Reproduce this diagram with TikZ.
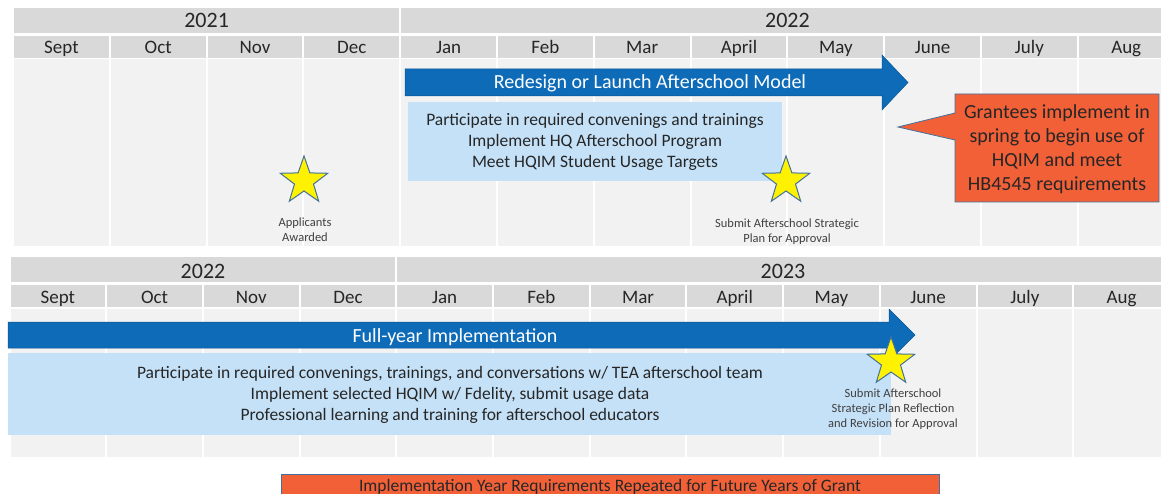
\documentclass[tikz,border=0pt]{standalone}
\usepackage{fontspec}
\setmainfont{Carlito}
\usetikzlibrary{shapes.geometric}
\definecolor{hdr}{HTML}{D9D9D9}
\definecolor{bodyg}{HTML}{F2F2F2}
\definecolor{arrowblue}{HTML}{0E6BB8}
\definecolor{lightblue}{HTML}{C5E1F7}
\definecolor{orng}{HTML}{F26038}
\definecolor{outl}{HTML}{41719C}
\definecolor{txt}{HTML}{262626}
\definecolor{lbltxt}{HTML}{404040}
\begin{document}
\begin{tikzpicture}[x=1pt,y=-1pt,
  monthtxt/.style={anchor=base, text=txt, inner sep=0, font=\fontsize{19}{22}\selectfont},
  yeartxt/.style={anchor=base, text=txt, inner sep=0, font=\fontsize{22}{26}\selectfont},
  arrowtxt/.style={anchor=base, text=white, inner sep=0, font=\fontsize{20}{24}\selectfont},
  boxtxt/.style={anchor=base, text=txt, inner sep=0, font=\fontsize{17.5}{20}\selectfont},
  calltxt/.style={anchor=base, text=txt, inner sep=0, font=\fontsize{20}{24}\selectfont},
  startxt/.style={anchor=base, text=lbltxt, inner sep=0, font=\fontsize{12.5}{15}\selectfont},
  bannertxt/.style={anchor=base, text=txt, inner sep=0, font=\fontsize{17.5}{20}\selectfont},
  starshape/.style={star, star points=5, star point ratio=2.5, minimum size=50pt, inner sep=0,
    fill=yellow, draw=outl, line width=1pt},
  bluearrow/.style={fill=arrowblue, draw=arrowblue!80!black, line width=0.5pt},
]
\clip (0,0) rectangle (1161,494);
\fill[white] (0,0) rectangle (1161,494);

% ---------- top panel ----------
\fill[hdr] (14,8) rectangle (399.2,33);
\fill[hdr] (401.2,8) rectangle (1175,33);
\node[yeartxt] (ty1) at (206.6,28) {2021};
\node[yeartxt] (ty2) at (787.4,28) {2022};
\foreach \m [count=\i from 0] in {Sept,Oct,Nov,Dec,Jan,Feb,Mar,April,May,June,July,Aug}{
  \pgfmathsetmacro\xl{13+\i*96.8}
  \fill[hdr] (\xl+1,36) rectangle (\xl+95.8,58);
  \fill[bodyg] (\xl+1,59.5) rectangle (\xl+95.8,246);
  \node[monthtxt] (tm\i) at (\xl+48.4,54) {\m};
}

% top arrow
\path[bluearrow] (405,69) -- (882,69) -- (882,55) -- (908,82.5) -- (882,110) -- (882,96) -- (405,96) -- cycle;
\node[arrowtxt] (ta) at (650,89) {Redesign or Launch Afterschool Model};

% top light blue box
\fill[lightblue] (408,102) rectangle (782,181);
\node[boxtxt] (tb1) at (595,126) {Participate in required convenings and trainings};
\node[boxtxt] (tb2) at (595,147) {Implement HQ Afterschool Program};
\node[boxtxt] (tb3) at (595,168) {Meet HQIM Student Usage Targets};

% stars top
\node[starshape] (s1) at (304,181) {};
\node[startxt] (s1a) at (305,227) {Applicants};
\node[startxt] (s1b) at (305,242) {Awarded};
\node[starshape] (s2) at (786,181) {};
\node[startxt] (s2a) at (787,228) {Submit Afterschool Strategic};
\node[startxt] (s2b) at (787,243) {Plan for Approval};

% callout
\path[fill=orng, draw=outl, line width=0.8pt] (955,94) -- (1159,94) -- (1159,202) -- (955,202) -- (955,140) -- (898,127) -- (955,113) -- cycle;
\node[calltxt] (c1) at (1057,119) {Grantees implement in};
\node[calltxt] (c2) at (1057,143) {spring to begin use of};
\node[calltxt] (c3) at (1057,167) {HQIM and meet};
\node[calltxt] (c4) at (1057,191) {HB4545 requirements};

% ---------- bottom panel ----------
\fill[hdr] (10.5,257) rectangle (395.3,282);
\fill[hdr] (397.3,257) rectangle (1175,282);
\node[yeartxt] (by1) at (203,278) {2022};
\node[yeartxt] (by2) at (783,278) {2023};
\foreach \m [count=\i from 0] in {Sept,Oct,Nov,Dec,Jan,Feb,Mar,April,May,June,July,Aug}{
  \pgfmathsetmacro\xl{9.5+\i*96.7}
  \fill[hdr] (\xl+1,285) rectangle (\xl+95.7,307);
  \fill[bodyg] (\xl+1,308.5) rectangle (\xl+95.7,457);
  \node[monthtxt] (bm\i) at (\xl+48.35,303) {\m};
}

% bottom arrow
\path[bluearrow] (8,322) -- (889,322) -- (889,309) -- (915,335) -- (889,361) -- (889,348) -- (8,348) -- cycle;
\node[arrowtxt] (ba) at (455,342) {Full-year Implementation};

% bottom light blue box
\fill[lightblue] (8,353) rectangle (891,435);
\node[boxtxt] (bb1) at (450,378) {Participate in required convenings, trainings, and conversations w/ TEA afterschool team};
\node[boxtxt] (bb2) at (450,399) {Implement selected HQIM w/ Fdelity, submit usage data};
\node[boxtxt] (bb3) at (450,420) {Professional learning and training for afterschool educators};

% bottom star
\node[starshape] (s3) at (891,362) {};
\node[startxt] (s3a) at (893,397) {Submit Afterschool};
\node[startxt] (s3b) at (893,412) {Strategic Plan Reflection};
\node[startxt] (s3c) at (893,427) {and Revision for Approval};

% banner
\path[fill=orng, draw=outl, line width=0.8pt] (281,474) rectangle (939,505);
\node[bannertxt] (bn) at (610,491) {Implementation Year Requirements Repeated for Future Years of Grant};
\end{tikzpicture}
\end{document}
